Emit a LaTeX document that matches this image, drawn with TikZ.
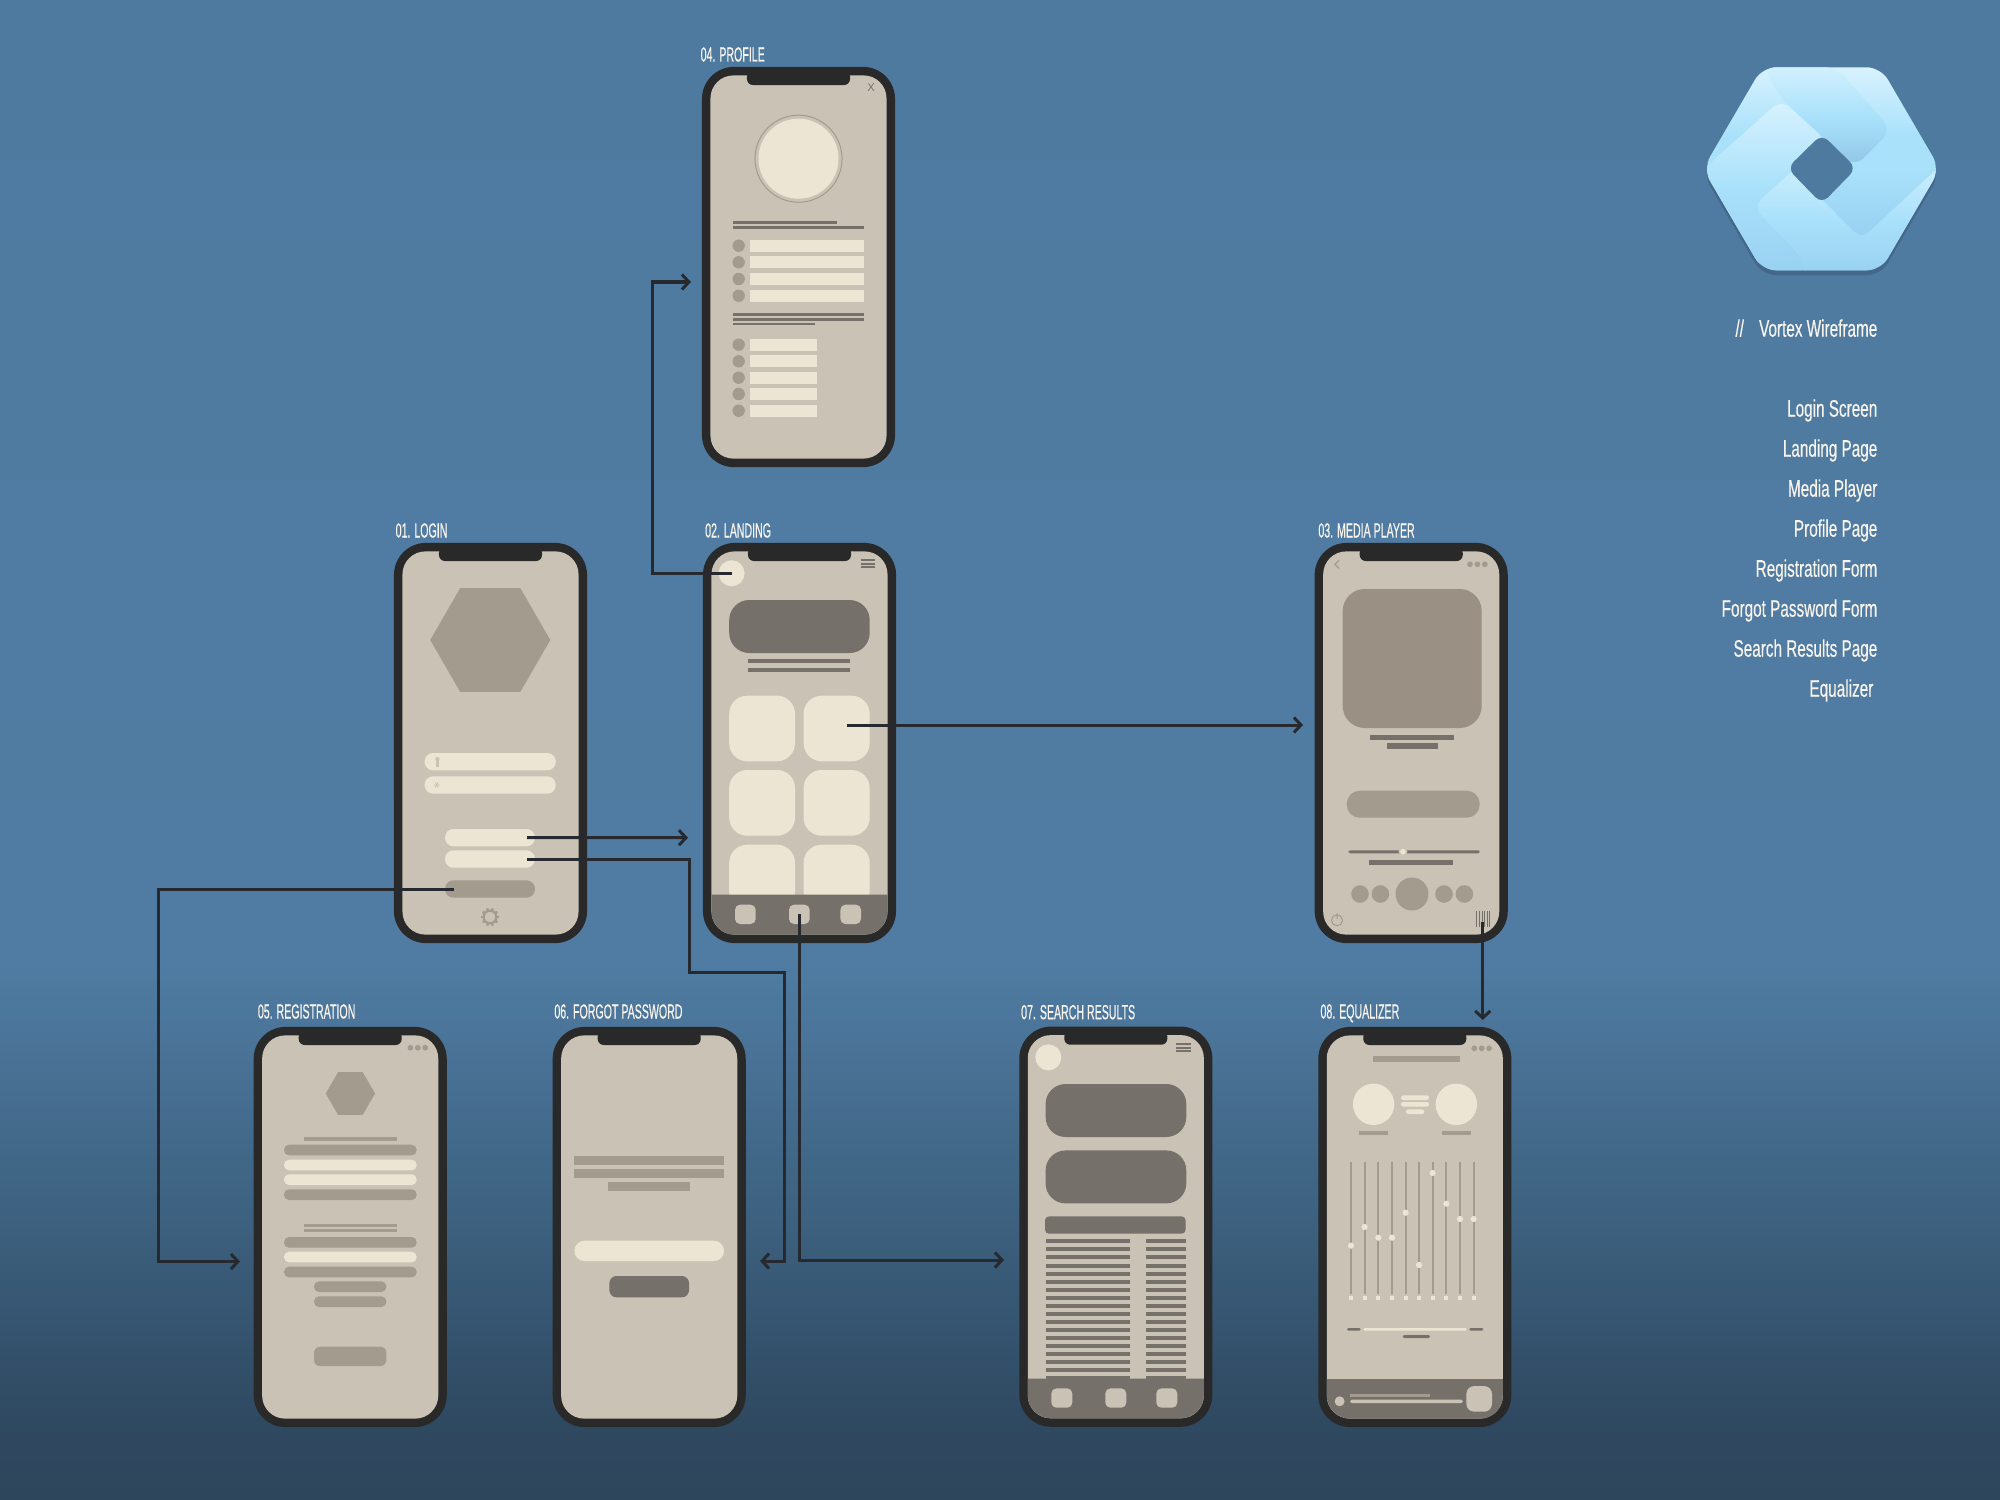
\documentclass[tikz,border=0pt]{standalone}
\usepackage{fontspec}
\usetikzlibrary{positioning,arrows.meta,calc,shapes.geometric}
\setmainfont{Liberation Sans}
\newfontfamily\capfont[FakeStretch=0.52,FakeBold=0.5]{Liberation Sans}
\newfontfamily\sidefont[FakeStretch=0.64,FakeBold=0.4]{Liberation Sans}
\definecolor{dBezel}{RGB}{41,41,41}
\definecolor{dScreen}{RGB}{202,194,180}
\definecolor{dMid}{RGB}{163,155,142}
\definecolor{dAlbum}{RGB}{154,145,132}
\definecolor{dDark}{RGB}{117,112,106}
\definecolor{dCream}{RGB}{237,229,212}
\definecolor{dLink}{RGB}{38,42,48}
\definecolor{dText}{RGB}{248,244,236}
\definecolor{bgTop}{RGB}{79,122,160}
\definecolor{bgMid}{RGB}{80,124,163}
\definecolor{bgLow}{RGB}{62,99,130}
\definecolor{bgDeep}{RGB}{47,73,97}
\definecolor{bgEnd}{RGB}{46,70,92}
\definecolor{hexLite}{RGB}{216,242,254}
\definecolor{hexMain}{RGB}{169,225,251}
\definecolor{hexDeep}{RGB}{152,208,241}
\definecolor{hexBase}{RGB}{143,201,236}
\definecolor{hexShad}{RGB}{68,104,138}
\pgfdeclareverticalshading{bgFade}{100bp}{color(0bp)=(bgEnd); color(25bp)=(bgEnd);
  color(27.7bp)=(bgDeep); color(35bp)=(bgLow); color(43bp)=(bgMid); color(75bp)=(bgTop); color(100bp)=(bgTop)}
\pgfdeclareverticalshading{logoFade}{100bp}{color(0bp)=(hexBase); color(25bp)=(hexBase);
  color(50bp)=(hexMain); color(58bp)=(hexMain); color(75bp)=(hexLite); color(100bp)=(hexLite)}
\tikzset{
  wid/.style={rectangle, inner sep=0pt, outer sep=0pt},
  disc/.style={circle, inner sep=0pt, outer sep=0pt},
  fCrm/.style={fill=dCream},
  fMid/.style={fill=dMid},
  fDrk/.style={fill=dDark},
  fScr/.style={fill=dScreen},
  bezel/.style={wid, fill=dBezel, rounded corners=.32cm, minimum width=1.93cm, minimum height=4cm},
  screen/.style={wid, fill=dScreen, rounded corners=.23cm, minimum width=1.76cm, minimum height=3.83cm},
  notch/.style={wid, fill=dBezel, rounded corners=.06cm, minimum width=1.03cm, minimum height=.14cm},
  hexa/.style={regular polygon, regular polygon sides=6, inner sep=0pt, outer sep=0pt, fill=dMid},
  capt/.style={font=\capfont\fontsize{5.8}{7}\selectfont, text=dText, anchor=base west, inner sep=0pt},
  side/.style={font=\sidefont\fontsize{6.8}{8}\selectfont, text=dText, anchor=base east, inner sep=0pt},
  flow/.style={-{Straight Barb[length=.07cm,width=.15cm]}, draw=dLink, line width=.03cm},
}
\newcommand{\Wid}[6][]{% {name}{x0}{x1}{y0}{y1}
  \node[wid,#1,minimum width={((#4)-(#3))*0.01cm},minimum height={((#6)-(#5))*0.01cm}]
    (#2) at ({((#3)+(#4))/2},{((#5)+(#6))/2}) {};}
\newcommand{\Disc}[5][]{% {name}{cx}{cy}{radius}
  \node[disc,#1,minimum size={2*(#5)*0.01cm}] (#2) at (#3,#4) {};}
\newcommand{\Phone}[4]{% {name}{label}{label x}{label y}
  \node[bezel] (#1) at (96.5,200) {};
  \node[screen] (#1-scr) at (96.5,200) {};
  \node[notch] (#1-notch) at (96.5,11) {};
  \node[capt] (#1-cap) at (#3,#4) {#2};}
\newcommand{\TabBar}[1]{%
  \fill[dDark] (8.5,#1) -- (184.5,#1) [rounded corners=.23cm] -- (184.5,391.5) -- (8.5,391.5) [sharp corners] -- cycle;}
\newcommand{\Dots}[3]{% {name}{x}{y}
  \Disc[fMid]{#1-a}{#2}{#3}{2.9}
  \Disc[fMid]{#1-b}{#2+7.4}{#3}{2.9}
  \Disc[fMid]{#1-c}{#2+14.8}{#3}{2.9}}
\newcommand{\Burger}[3]{% {name}{x0}{x1}
  \Wid[fDrk]{#1-a}{#2}{#3}{16.2}{18.2}
  \Wid[fDrk]{#1-b}{#2}{#3}{19.8}{21.8}
  \Wid[fDrk]{#1-c}{#2}{#3}{23.3}{25.3}}
\def\HexPath{(69,357) -- (247,52) -- (603,52) -- (781,357) -- (603,662) -- (247,662) -- cycle}
\begin{document}
\begin{tikzpicture}[x=0.01cm,y=-0.01cm]
  \useasboundingbox (0,0) rectangle (2000,1500);
  \shade[shading=bgFade] (0,0) rectangle (2000,1500);
  % logo
  \begin{scope}[shift={(1680,50)},x=0.003333cm,y=-0.003333cm]
    \fill[hexShad,rounded corners=.14cm,yshift=-.05cm] \HexPath;
    \begin{scope}
      \clip[rounded corners=.14cm] \HexPath;
      \shade[shading=logoFade] (60,52) rectangle (790,662);
      \shade[top color=hexLite!80!hexMain,bottom color=hexDeep,middle color=hexMain,rounded corners=.1cm]
        (330,352) -- (545,568) -- (790,340) -- (790,680) -- (370,680) -- (370,632) -- (218,470) -- cycle;
      \shade[top color=hexLite,bottom color=hexDeep,middle color=hexMain,rounded corners=.12cm]
        (60,368) -- (305,148) -- (440,272) -- (218,470) -- (375,640) -- (375,680) -- (60,680) -- cycle;
      \shade[top color=hexLite!85!hexMain,bottom color=hexDeep!95!black,middle color=hexMain,rounded corners=.12cm]
        (470,52) -- (635,240) -- (525,352) -- (430,262) -- (305,148) -- (250,52) -- cycle;
    \end{scope}
    \fill[bgTop,rounded corners=.09cm] (322,355) -- (426,253) -- (530,355) -- (426,462) -- cycle;
  \end{scope}
  \node[side] (title) at (1878,336.7) {//\hspace{4.3pt}Vortex Wireframe};
  \foreach \txt/\rx [count=\k] in {Login Screen/1878,Landing Page/1878,Media Player/1878,Profile Page/1878,
      Registration Form/1878,Forgot Password Form/1878,Search Results Page/1878,Equalizer/1874}
    \node[side] (item\k) at (\rx,{376.7+40*\k}) {\txt};
  % 01 login
  \begin{scope}[shift={(394,543)}]
    \Phone{log}{01. LOGIN}{1}{-5.5}
    \node[hexa,minimum size=1.2cm] (log-hex) at (96.25,97) {};
    \Wid[fCrm,rounded corners=.085cm]{log-user}{30.6}{161.8}{210}{227.3}
    \Wid[fCrm,rounded corners=.085cm]{log-pass}{30.6}{161.8}{233.3}{250.7}
    \Disc[fScr]{log-key}{43.4}{216}{2.2}
    \Wid[fScr]{log-keyb}{41.8}{45}{217}{224}
    \draw[dScreen,line width=.008cm] (39.7,242) -- (45.7,242) (41.2,239.4) -- (44.2,244.6) (41.2,244.6) -- (44.2,239.4);
    \Wid[fCrm,rounded corners=.085cm]{log-btnA}{51}{141}{286}{303.3}
    \Wid[fCrm,rounded corners=.085cm]{log-btnB}{51}{141}{307.3}{324.7}
    \Wid[fMid,rounded corners=.085cm]{log-btnC}{51}{141}{337.3}{354.7}
    \draw[dMid,line width=.022cm] (96,374) circle (6.4);
    \foreach \a in {0,36,...,324}
      \draw[dMid,line width=.022cm] (96,374) ++(\a:6.5) -- ++(\a:2.6);
  \end{scope}
  % 02 landing
  \begin{scope}[shift={(703,543)}]
    \Phone{lnd}{02. LANDING}{1.5}{-5.5}
    \Disc[fCrm]{lnd-av}{28.6}{30.3}{13}
    \Burger{lnd-menu}{157.6}{172.4}
    \Wid[fDrk,rounded corners=.2cm]{lnd-hero}{26.2}{166.7}{57}{110}
    \Wid[fDrk]{lnd-la}{44.8}{147.4}{116.3}{120}
    \Wid[fDrk]{lnd-lb}{44.8}{147.4}{125.3}{129}
    \Wid[fCrm,rounded corners=.18cm]{lnd-t1}{26.2}{92}{152.7}{218.3}
    \Wid[fCrm,rounded corners=.18cm]{lnd-t2}{100.6}{166.7}{152.7}{218.3}
    \Wid[fCrm,rounded corners=.18cm]{lnd-t3}{26.2}{92}{227}{292.7}
    \Wid[fCrm,rounded corners=.18cm]{lnd-t4}{100.6}{166.7}{227}{292.7}
    \Wid[fCrm,rounded corners=.18cm]{lnd-t5}{26.2}{92}{301.7}{367}
    \Wid[fCrm,rounded corners=.18cm]{lnd-t6}{100.6}{166.7}{301.7}{367}
    \TabBar{351.7}
    \Wid[fScr,rounded corners=.05cm]{lnd-tabA}{32}{52.7}{361.7}{381}
    \Wid[fScr,rounded corners=.05cm]{lnd-tabB}{86}{106.7}{361.7}{381}
    \Wid[fScr,rounded corners=.05cm]{lnd-tabC}{137.4}{158}{361.7}{381}
  \end{scope}
  % 03 media player
  \begin{scope}[shift={(1314.7,543)}]
    \Phone{med}{03. MEDIA PLAYER}{3}{-5.5}
    \draw[dMid,line width=.012cm] (24.3,17.3) -- (20.3,21.3) -- (24.3,25.3);
    \Dots{med-dots}{155.3}{21.3}
    \Wid[fill=dAlbum,rounded corners=.22cm]{med-art}{28}{167}{46}{185}
    \Wid[fDrk]{med-la}{55.7}{139.7}{191.7}{197}
    \Wid[fDrk]{med-lb}{72}{123}{200.3}{205.7}
    \Wid[fMid,rounded corners=.13cm]{med-pill}{32}{165}{247.7}{274.7}
    \Wid[fDrk,rounded corners=.014cm]{med-seek}{33.7}{165}{307.3}{310.3}
    \Disc[fScr]{med-gap}{88.3}{308.7}{4.4}
    \Disc[fCrm]{med-knob}{88.3}{308.7}{2.8}
    \Wid[fDrk]{med-lc}{54.7}{138.7}{317}{322.3}
    \Disc[fMid]{med-ca}{45.3}{351}{8.8}
    \Disc[fMid]{med-cb}{65.7}{351}{8.8}
    \Disc[fMid]{med-cc}{97.3}{351}{16.5}
    \Disc[fMid]{med-cd}{129.3}{351}{8.8}
    \Disc[fMid]{med-ce}{149.7}{351}{8.8}
    \draw[dMid,line width=.01cm] (22.3,377.3) circle (5.5) (22.3,370) -- (22.3,376);
    \node[wid,minimum width=.14cm,minimum height=.157cm] (med-bars) at (168,376.2) {};
    \foreach \bx in {162,164.7,167.3,170,172.3,174.3}
      \draw[dDark,line width=.01cm] (\bx,368.3) -- (\bx,384);
  \end{scope}
  % 04 profile
  \begin{scope}[shift={(702,67)}]
    \Phone{prf}{04. PROFILE}{-2}{-5.5}
    \node[wid,text=dDark,font=\fontsize{3.2}{4}\selectfont] (prf-close) at (169,20.7) {X};
    \node[disc,fill=dScreen,draw=dMid,line width=.01cm,minimum size=.87cm] (prf-ring) at (96.5,91.7) {};
    \Disc[fCrm]{prf-av}{96.5}{91.7}{40}
    \Wid[fDrk]{prf-la}{30.7}{134.7}{154.3}{157}
    \Wid[fDrk]{prf-lb}{30.7}{162.3}{159.3}{162}
    \foreach \yy [count=\k] in {178.7,195.3,212,228.7}{
      \Disc[fMid]{prf-d\k}{36.7}{\yy}{6.2}
      \Wid[fCrm]{prf-r\k}{48}{162.3}{\yy-6}{\yy+6}
    }
    \Wid[fDrk]{prf-lc}{30.7}{162.3}{246}{248.7}
    \Wid[fDrk]{prf-ld}{30.7}{162.3}{251}{253.7}
    \Wid[fDrk]{prf-le}{30.7}{113.3}{255.7}{258.3}
    \foreach \yy [count=\k] in {277.7,294.3,310.7,327,343.7}{
      \Disc[fMid]{prf-e\k}{36.7}{\yy}{6.2}
      \Wid[fCrm]{prf-s\k}{48}{115}{\yy-6}{\yy+6}
    }
  \end{scope}
  % 05 registration
  \begin{scope}[shift={(253.7,1027)}]
    \Phone{reg}{05. REGISTRATION}{3.5}{-8.5}
    \Dots{reg-dots}{156.7}{20.7}
    \node[hexa,minimum size=.493cm] (reg-hex) at (96.7,66.5) {};
    \Wid[fMid]{reg-la}{50.3}{143}{110}{113.7}
    \Wid[fMid,rounded corners=.05cm]{reg-fa}{30.3}{163}{117.7}{128.3}
    \Wid[fCrm,rounded corners=.05cm]{reg-fb}{30.3}{163}{132.7}{143.3}
    \Wid[fCrm,rounded corners=.05cm]{reg-fc}{30.3}{163}{147.3}{158}
    \Wid[fMid,rounded corners=.05cm]{reg-fd}{30.3}{163}{162.3}{173}
    \Wid[fMid]{reg-lb}{50.3}{143}{196.7}{200}
    \Wid[fMid]{reg-lc}{50.3}{143}{201.7}{205}
    \Wid[fMid,rounded corners=.05cm]{reg-fe}{30.3}{163}{210}{220.7}
    \Wid[fCrm,rounded corners=.05cm]{reg-ff}{30.3}{163}{224.7}{235.3}
    \Wid[fMid,rounded corners=.05cm]{reg-fg}{30.3}{163}{239.7}{250.3}
    \Wid[fMid,rounded corners=.05cm]{reg-fh}{60.3}{132.7}{254.3}{265}
    \Wid[fMid,rounded corners=.05cm]{reg-fi}{60.3}{132.7}{269.3}{280}
    \Wid[fMid,rounded corners=.06cm]{reg-btn}{60.3}{132.7}{319.7}{339}
  \end{scope}
  % 06 forgot password
  \begin{scope}[shift={(552.7,1027)}]
    \Phone{fgt}{06. FORGOT PASSWORD}{1}{-8.5}
    \Wid[fMid]{fgt-la}{21.7}{171.3}{129.3}{138}
    \Wid[fMid]{fgt-lb}{21.7}{171.3}{142.3}{151}
    \Wid[fMid]{fgt-lc}{55.3}{137.7}{155}{163.7}
    \Wid[fCrm,rounded corners=.1cm]{fgt-mail}{21.7}{171.3}{213.7}{234}
    \Wid[fDrk,rounded corners=.07cm]{fgt-btn}{56.7}{136.3}{249}{270.3}
  \end{scope}
  % 07 search results
  \begin{scope}[shift={(1019.3,1026.7)}]
    \Phone{sch}{07. SEARCH RESULTS}{1.2}{-7.5}
    \Disc[fCrm]{sch-av}{29}{30.7}{13}
    \Burger{sch-menu}{156.7}{172}
    \Wid[fDrk,rounded corners=.2cm]{sch-ca}{26.3}{167}{57.3}{110.3}
    \Wid[fDrk,rounded corners=.2cm]{sch-cb}{26.3}{167}{123.7}{176.7}
    \Wid[fDrk,rounded corners=.04cm]{sch-head}{25.7}{166.3}{189.7}{207}
    \TabBar{352}
    \foreach \k in {0,...,17}{
      \Wid[fDrk]{sch-l\k}{26.7}{110.3}{212.7+8.03*\k}{216.7+8.03*\k}
      \Wid[fDrk]{sch-r\k}{126.7}{166.3}{212.7+8.03*\k}{216.7+8.03*\k}
    }
    \Wid[fScr,rounded corners=.05cm]{sch-tabA}{32}{53}{361.7}{381}
    \Wid[fScr,rounded corners=.05cm]{sch-tabB}{86}{107}{361.7}{381}
    \Wid[fScr,rounded corners=.05cm]{sch-tabC}{137}{158}{361.7}{381}
  \end{scope}
  % 08 equalizer
  \begin{scope}[shift={(1318.3,1027)}]
    \Phone{eql}{08. EQUALIZER}{1.5}{-8.5}
    \Dots{eql-dots}{156}{21.3}
    \Wid[fMid]{eql-title}{55}{141.7}{28.7}{35}
    \Disc[fCrm]{eql-da}{55.3}{77.3}{20.7}
    \Disc[fCrm]{eql-db}{138}{77.3}{20.7}
    \Wid[fCrm,rounded corners=.023cm]{eql-pa}{82.7}{110.7}{68.3}{73}
    \Wid[fCrm,rounded corners=.023cm]{eql-pb}{82.7}{110.7}{75}{79.7}
    \Wid[fCrm,rounded corners=.023cm]{eql-pc}{87.7}{106}{82.3}{87}
    \Wid[fMid]{eql-na}{40.7}{69.7}{104}{108}
    \Wid[fMid]{eql-nb}{123.3}{152.7}{104}{108}
    \foreach \bx/\by [count=\k] in {32.7/218.7,46.3/200,60/210.7,73.7/210.7,87.3/185.7,
        100.7/238,114.3/146,128/176.7,141.7/192,155.3/192}{
      \Wid[fMid]{eql-s\k}{\bx-1}{\bx+1}{134.7}{267}
      \Disc[fCrm]{eql-k\k}{\bx}{\by}{3.1}
      \Wid[fCrm]{eql-f\k}{\bx-2.1}{\bx+2.1}{268.9}{273.1}
    }
    \Wid[fDrk,rounded corners=.013cm]{eql-ma}{28.7}{42.3}{301}{303.7}
    \Wid[fCrm,rounded corners=.013cm]{eql-mb}{45}{148.3}{301}{303.7}
    \Wid[fDrk,rounded corners=.013cm]{eql-mc}{151}{165}{301}{303.7}
    \Wid[fDrk,rounded corners=.014cm]{eql-md}{84.3}{111.7}{308}{311}
    \TabBar{352}
    \Disc[fScr]{eql-now}{21.3}{374.3}{5}
    \Wid[fMid]{eql-ta}{31.7}{111.7}{367}{370.3}
    \Wid[fScr,rounded corners=.016cm]{eql-tb}{31.7}{144.7}{372.7}{376}
    \Wid[fScr,rounded corners=.08cm]{eql-play}{148}{173.7}{359}{384.7}
  \end{scope}
  % links
  \coordinate (bendPrf) at (652,282);
  \coordinate (toPrf) at (691,282);
  \coordinate (toMed) at (1303,725);
  \coordinate (toLnd) at (688,837.7);
  \coordinate (bendFgtA) at (689,972);
  \coordinate (bendFgtB) at (784.5,1261);
  \coordinate (toFgt) at (760,1261);
  \coordinate (bendReg) at (158,1261.5);
  \coordinate (toReg) at (240,1261.5);
  \coordinate (toSch) at (1004,1260);
  \coordinate (toEql) at (1482.7,1020);
  \draw[flow] (lnd-av.center) -| (bendPrf) -- (toPrf);
  \draw[flow] ([shift={(10,-3.5)}]lnd-t2.center) -- (toMed);
  \draw[flow] ([xshift=-.08cm]log-btnA.east) -- (toLnd);
  \draw[flow] ([xshift=-.08cm]log-btnB.east) -| (bendFgtA) -| (bendFgtB) -- (toFgt);
  \draw[flow] ([xshift=.09cm]log-btnC.west) -| (bendReg) -- (toReg);
  \draw[flow] (lnd-tabB.center) |- (toSch);
  \draw[flow] ([shift={(0,3)}]med-bars.center) -- (toEql);
\end{tikzpicture}
\end{document}
